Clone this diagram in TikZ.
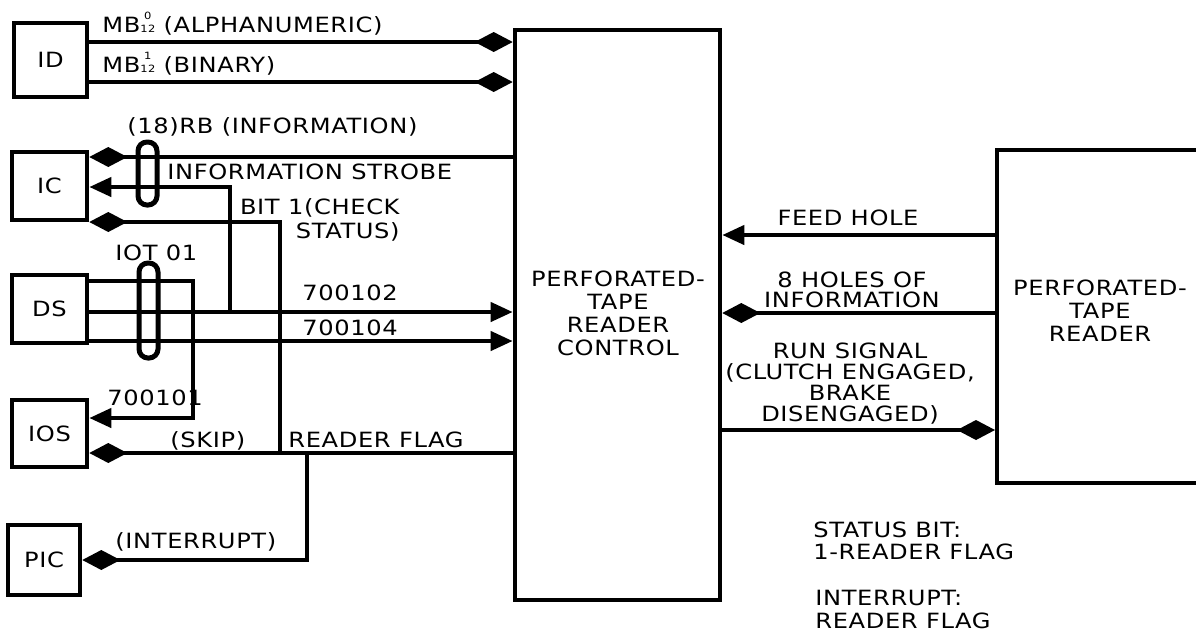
\documentclass[tikz,border=0pt]{standalone}
\usepackage{fontspec}
\setmainfont{DejaVu Sans}[FakeStretch=1.15,LetterSpace=3]
\usetikzlibrary{arrows.meta}
\newcommand{\mbidx}[1]{\raisebox{0pt}{\fontsize{5}{4.3}\selectfont\shortstack{#1\\12}}}
\begin{document}
\begin{tikzpicture}[x=0.5pt,y=-0.5pt,
  box/.style={draw,line width=2.3pt,inner sep=0pt,align=center,font=\fontsize{10.5}{11.5}\selectfont},
  wire/.style={line width=2.1pt},
  lbl/.style={inner sep=0pt,font=\fontsize{10.5}{11}\selectfont,text height=7.6pt,text depth=0pt},
  mlbl/.style={inner sep=0pt,align=center,font=\fontsize{10.5}{11.5}\selectfont},
  dia/.style={-{Diamond[length=19pt,width=10pt]}},
  tri/.style={-{Triangle[length=11pt,width=9.5pt]}},
  oval/.style={draw,line width=2.5pt,rounded corners=4.5pt}
]
\useasboundingbox (0,0) rectangle (1196,634);

% boxes
\node[box,minimum width=36.5pt,minimum height=37pt] (ID) at (50.5,60) {ID};
\node[box,minimum width=37.5pt,minimum height=34pt] (IC) at (49.5,186) {IC};
\node[box,minimum width=37.5pt,minimum height=34pt] (DS) at (49.5,309) {DS};
\node[box,minimum width=37.5pt,minimum height=33.5pt] (IOS) at (49.5,433.5) {IOS};
\node[box,minimum width=36pt,minimum height=35pt] (PIC) at (44,560) {PIC};
\node[box,minimum width=102.5pt,minimum height=285pt] (ctrl) at (617.5,315) {};
\node[mlbl] (ctrltxt) at (618,313) {PERFORATED-\\TAPE\\READER\\CONTROL};

% tape reader (cut off at right edge)
\draw[line width=2.3pt] (1196,150) -| (997,483) -- (1196,483);
\coordinate (rdr) at (995,316);
\node[mlbl] (rdrtxt) at (1100,311) {PERFORATED-\\TAPE\\READER};

% tap points
\coordinate (jS) at (230,312);
\coordinate (jB) at (280,453);
\coordinate (jI) at (307,453);

% connectors
\draw[wire,dia] (ID.east |- 0,42) -- (ctrl.west |- 0,42);
\draw[wire,dia] (ID.east |- 0,82) -- (ctrl.west |- 0,82);
\draw[wire,dia] (ctrl.west |- 0,157) -- (IC.east |- 0,157);
\draw[wire,tri] (jS) |- (IC.east |- 0,187);
\draw[wire,dia] (jB) |- (IC.east |- 0,222);
\draw[wire,tri] (DS.east |- 0,281) -- (193,281) |- (IOS.east |- 0,418);
\draw[wire,tri] (DS.east |- 0,312) -- (ctrl.west |- 0,312);
\draw[wire,tri] (DS.east |- 0,341) -- (ctrl.west |- 0,341);
\draw[wire,dia] (ctrl.west |- 0,453) -- (IOS.east |- 0,453);
\draw[wire,dia] (jI) |- (PIC.east |- 0,560);
\draw[wire,tri] (rdr |- 0,235) -- (ctrl.east |- 0,235);
\draw[wire,dia] (rdr |- 0,313) -- (ctrl.east |- 0,313);
\draw[wire,dia] (ctrl.east |- 0,430) -- (rdr |- 0,430);

% bundle ovals
\draw[oval] (138,142) rectangle (157,205);
\draw[oval] (139,263) rectangle (158,358);

% labels
\node[lbl,anchor=west] (lMBa) at (102,25) {MB\mbidx{0} (ALPHANUMERIC)};
\node[lbl,anchor=west] (lMBb) at (102,65) {MB\mbidx{1} (BINARY)};
\node[lbl,anchor=west] (lRB) at (127,126) {(18)RB (INFORMATION)};
\node[lbl,anchor=west] (lSTR) at (167,172) {INFORMATION STROBE};
\node[mlbl,align=right,anchor=east,font=\fontsize{10.5}{12}\selectfont] (lBIT) at (400,220) {BIT 1(CHECK\\STATUS)};
\node[lbl,anchor=west] (lIOT) at (115,253) {IOT 01};
\node[lbl] (l102) at (350,293) {700102};
\node[lbl] (l104) at (350,328) {700104};
\node[lbl,anchor=west] (l101) at (107,398) {700101};
\node[lbl,anchor=west] (lSKIP) at (170,440) {(SKIP)};
\node[lbl,anchor=west] (lFLAG) at (288,440) {READER FLAG};
\node[lbl,anchor=west] (lINT) at (115,541) {(INTERRUPT)};
\node[lbl] (lFEED) at (848,218) {FEED HOLE};
\node[mlbl,font=\fontsize{10.5}{10}\selectfont] (lHOLES) at (852,290) {8 HOLES OF\\INFORMATION};
\node[mlbl,font=\fontsize{10.5}{10.5}\selectfont] (lRUN) at (850,384) {RUN SIGNAL\\(CLUTCH ENGAGED,\\BRAKE\\DISENGAGED)};
\node[mlbl,align=left,anchor=west,font=\fontsize{10.5}{11}\selectfont] (lSTAT) at (813,541) {STATUS BIT:\\1-READER FLAG};
\node[mlbl,align=left,anchor=west,font=\fontsize{10.5}{11.5}\selectfont] (lINTR) at (815,609) {INTERRUPT:\\READER FLAG};
\end{tikzpicture}
\end{document}
